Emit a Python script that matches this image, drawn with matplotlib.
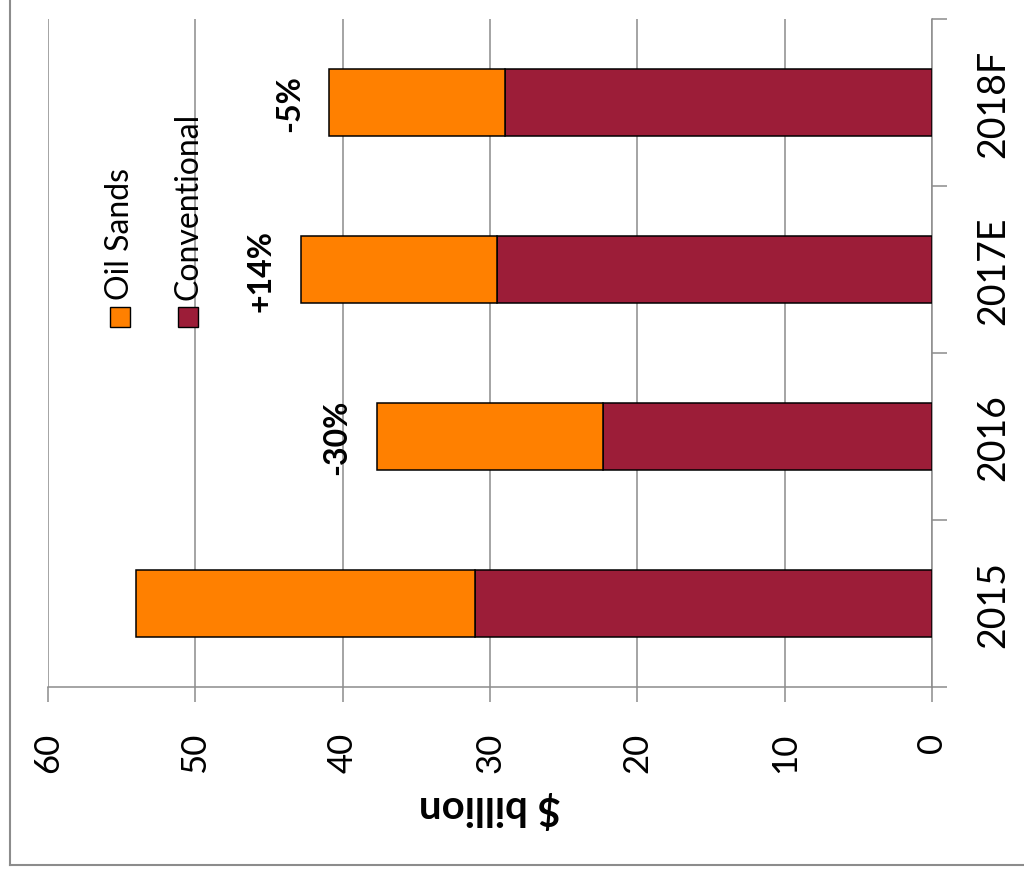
import matplotlib
matplotlib.use("Agg")
import matplotlib.pyplot as plt
from matplotlib.patches import Rectangle
from matplotlib.lines import Line2D
import numpy as np

plt.rcParams['font.family'] = ['Lato', 'DejaVu Sans']

# Capital spending by segment, $ billion
years = ["2015", "2016", "2017E", "2018F"]
conventional = [31.0, 22.3, 29.5, 29.0]
oil_sands = [23.0, 15.4, 13.3, 11.9]
change_labels = ["", "-30%", "+14%", "-5%"]
value_ticks = [0, 10, 20, 30, 40, 50, 60]

C_OIL = "#FF8000"
C_CONV = "#9C1D38"
GREY = "#8c8c8c"

fig = plt.figure(figsize=(10.24, 8.79), dpi=100)
fig.patch.set_facecolor("white")
ax = fig.add_axes([48 / 1024, 1 - 688 / 879, (932 - 48) / 1024, (688 - 20) / 879])

pos = np.arange(len(years))
totals = np.array(conventional) + np.array(oil_sands)

ax.barh(pos, conventional, height=0.4, color=C_CONV, edgecolor="black",
        linewidth=1.1, zorder=3)
ax.barh(pos, oil_sands, left=conventional, height=0.4, color=C_OIL,
        edgecolor="black", linewidth=1.1, zorder=3)

ax.set_xlim(60, 0)
ax.set_ylim(-0.5, len(years) - 0.5)

# value axis along the bottom
ax.set_xticks(value_ticks)
ax.set_xticklabels([str(v) for v in value_ticks], rotation=90, fontsize=25)
ax.tick_params(axis="x", direction="out", length=11, width=1.1, color=GREY,
               pad=21)
ax.xaxis.grid(True, color=GREY, linewidth=1.1, zorder=0)
ax.set_xlabel("$ billion", rotation=180, fontsize=29, fontweight="bold",
              labelpad=12)

# category axis on the right
ax.yaxis.tick_right()
ax.set_yticks(pos)
ax.set_yticklabels(years, rotation=90, fontsize=27, va="center")
ax.tick_params(axis="y", which="major", length=0, pad=31)
ax.set_yticks(np.arange(len(years) + 1) - 0.5, minor=True)
ax.tick_params(axis="y", which="minor", direction="out", length=11,
               width=1.1, color=GREY)

for s in ["left", "top"]:
    ax.spines[s].set_visible(False)
for s in ["right", "bottom"]:
    ax.spines[s].set_color(GREY)
    ax.spines[s].set_linewidth(1.1)

# year-over-year change labels
for p, t, lab in zip(pos, totals, change_labels):
    if lab:
        ax.annotate(lab, xy=(t, p), xytext=(-29, 0), textcoords="offset points",
                    rotation=90, ha="center", va="center", fontsize=23,
                    fontweight="bold")

# legend drawn vertically
legend_items = [("Oil Sands", C_OIL, 0.0701), ("Conventional", C_CONV, 0.147)]
for name, col, x0 in legend_items:
    ax.add_patch(Rectangle((x0, 0.539), 0.023, 0.03, transform=ax.transAxes,
                           facecolor=col, edgecolor="black", linewidth=1.0,
                           clip_on=False, zorder=5))
    ax.text(x0 + 0.0115, 0.581, name, transform=ax.transAxes, rotation=90,
            ha="center", va="bottom", fontsize=23)

# outer frame (left and bottom edges)
fx = 10 / 1024
fy = 1 - 866 / 879
fig.add_artist(Line2D([fx, fx], [fy, 1], transform=fig.transFigure,
                      color=GREY, linewidth=1.5))
fig.add_artist(Line2D([fx, 1], [fy, fy], transform=fig.transFigure,
                      color=GREY, linewidth=1.5))

fig.savefig("out.png", dpi=100)
